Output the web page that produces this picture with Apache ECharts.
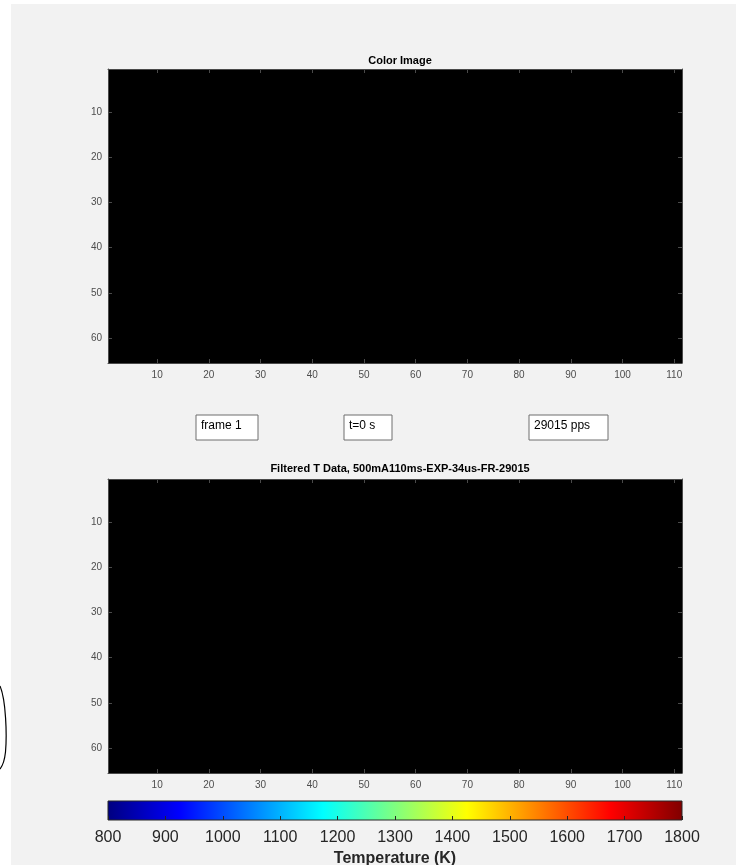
<!DOCTYPE html>
<html>
<head>
<meta charset="utf-8">
<script src="https://cdn.jsdelivr.net/npm/echarts@6/dist/echarts.min.js"></script>
<style>
  html, body { margin: 0; padding: 0; background: #ffffff; }
  #chart { width: 736px; height: 865px; }
</style>
</head>
<body>
<div id="chart"></div>
<script>
// Frame size in pixels (columns, rows) and the pixel level of the frame (blank frame -> 0)
const colorImageSize = [111, 65];
const colorImageLevel = [0];
const tempImageSize = [111, 65];
const tempImageLevel = [0];

// Tick labels
const imageXTicks = [10, 20, 30, 40, 50, 60, 70, 80, 90, 100, 110];
const imageYTicks = [10, 20, 30, 40, 50, 60];
const tempRange = [800, 1800];

// jet colormap stops (position, colour)
const jetStops = [
  [0.000, '#000080'],
  [0.125, '#0000ff'],
  [0.375, '#00ffff'],
  [0.625, '#ffff00'],
  [0.875, '#ff0000'],
  [1.000, '#800000']
];

// Info boxes shown between the two panels
const infoLabels = ['frame 1', 't=0 s', '29015 pps'];

const titles = ['Color Image', 'Filtered T Data, 500mA110ms-EXP-34us-FR-29015'];

const FONT = '"Liberation Sans", Arial, Helvetica, sans-serif';
const AXIS_COLOR = '#4a4a4a';
const LABEL_COLOR = '#4d4d4d';

const chart = echarts.init(document.getElementById('chart'), null, { renderer: 'canvas' });

function imageAxes(gridIndex, size) {
  const xBase = {
    gridIndex, type: 'value', min: 0.5, max: size[0] + 0.5, z: 5,
    splitLine: { show: false },
    axisLine: { show: true, onZero: false, lineStyle: { color: AXIS_COLOR, width: 1 } },
    axisTick: { show: true, inside: true, length: 4, customValues: imageXTicks, lineStyle: { color: AXIS_COLOR } },
    axisLabel: { show: true, customValues: imageXTicks, color: LABEL_COLOR, fontSize: 10, fontFamily: FONT, margin: 7 }
  };
  const yBase = {
    gridIndex, type: 'value', min: 0.5, max: size[1] + 0.5, inverse: true, z: 5,
    splitLine: { show: false },
    axisLine: { show: true, onZero: false, lineStyle: { color: AXIS_COLOR, width: 1 } },
    axisTick: { show: true, inside: true, length: 4, customValues: imageYTicks, lineStyle: { color: AXIS_COLOR } },
    axisLabel: { show: true, customValues: imageYTicks, color: LABEL_COLOR, fontSize: 10, fontFamily: FONT, margin: 6 }
  };
  return {
    x: [
      Object.assign({}, xBase, { position: 'bottom' }),
      Object.assign({}, xBase, { position: 'top', axisLabel: { show: false } })
    ],
    y: [
      Object.assign({}, yBase, { position: 'left' }),
      Object.assign({}, yBase, { position: 'right', axisLabel: { show: false } })
    ]
  };
}

const a0 = imageAxes(0, colorImageSize);
const a1 = imageAxes(1, tempImageSize);

const xAxes = [...a0.x, ...a1.x, {
  gridIndex: 2, type: 'value', min: tempRange[0], max: tempRange[1], interval: 100, z: 5,
  splitLine: { show: false },
  axisLine: { show: false },
  axisTick: { show: true, inside: true, length: 4, lineStyle: { color: '#262626' } },
  axisLabel: { color: '#262626', fontSize: 16, fontFamily: FONT, margin: 10,
    formatter: v => String(v) },
  name: 'Temperature (K)', nameLocation: 'middle', nameGap: 31,
  nameTextStyle: { color: '#262626', fontSize: 16, fontWeight: 'bold', fontFamily: FONT }
}];
const yAxes = [...a0.y, ...a1.y, { gridIndex: 2, type: 'value', min: 0, max: 1, show: false }];

function imageRender(params, api) {
  const p0 = api.coord([api.value(0), api.value(2)]);
  const p1 = api.coord([api.value(1), api.value(3)]);
  const level = api.value(4);
  const g = Math.round(255 * level);
  return {
    type: 'rect',
    shape: {
      x: Math.min(p0[0], p1[0]), y: Math.min(p0[1], p1[1]),
      width: Math.abs(p1[0] - p0[0]), height: Math.abs(p1[1] - p0[1])
    },
    style: { fill: 'rgb(' + g + ',' + g + ',' + g + ')' }
  };
}

function colorbarRender(params, api) {
  const p0 = api.coord([api.value(0), 1]);
  const p1 = api.coord([api.value(1), 0]);
  return {
    type: 'rect',
    shape: { x: p0[0], y: p0[1], width: p1[0] - p0[0], height: p1[1] - p0[1] },
    style: {
      fill: {
        type: 'linear', x: 0, y: 0, x2: 1, y2: 0,
        colorStops: jetStops.map(s => ({ offset: s[0], color: s[1] }))
      },
      stroke: '#262626', lineWidth: 1
    }
  };
}

const boxes = [
  { x: 196, w: 62 },
  { x: 344, w: 48 },
  { x: 529, w: 79 }
];

const option = {
  backgroundColor: '#ffffff',
  animation: false,
  title: [
    { text: titles[0], left: 395, top: 50, textAlign: 'center',
      textStyle: { fontSize: 11, fontWeight: 'bold', color: '#000', fontFamily: FONT } },
    { text: titles[1], left: 395, top: 458, textAlign: 'center',
      textStyle: { fontSize: 11, fontWeight: 'bold', color: '#000', fontFamily: FONT } }
  ],
  grid: [
    { left: 108, top: 69, width: 574, height: 294, containLabel: false, outerBoundsMode: 'none' },
    { left: 108, top: 479, width: 574, height: 294, containLabel: false, outerBoundsMode: 'none' },
    { left: 108, top: 801, width: 574, height: 19, containLabel: false, outerBoundsMode: 'none' }
  ],
  xAxis: xAxes,
  yAxis: yAxes,
  series: [
    { type: 'custom', xAxisIndex: 0, yAxisIndex: 0, renderItem: imageRender,
      data: [[0.5, colorImageSize[0] + 0.5, 0.5, colorImageSize[1] + 0.5, colorImageLevel[0]]] },
    { type: 'custom', xAxisIndex: 2, yAxisIndex: 2, renderItem: imageRender,
      data: [[0.5, tempImageSize[0] + 0.5, 0.5, tempImageSize[1] + 0.5, tempImageLevel[0]]] },
    { type: 'custom', xAxisIndex: 4, yAxisIndex: 4, renderItem: colorbarRender,
      data: [[tempRange[0], tempRange[1]]] }
  ],
  graphic: [
    { type: 'rect', z: -10, silent: true,
      shape: { x: 11, y: 4, width: 725, height: 861 }, style: { fill: '#f2f2f2' } },
    { type: 'bezierCurve', z: 10, silent: true,
      shape: { x1: 0, y1: 686, cpx1: 6, cpy1: 700, cpx2: 7, cpy2: 735, x2: 5.5, y2: 752 },
      style: { fill: null, stroke: '#000', lineWidth: 1.2 } },
    { type: 'bezierCurve', z: 10, silent: true,
      shape: { x1: 5.5, y1: 752, cpx1: 4.5, cpy1: 761, cpx2: 2.5, cpy2: 766, x2: 0, y2: 769 },
      style: { fill: null, stroke: '#000', lineWidth: 1.2 } },
    ...boxes.map((b, i) => ({
      type: 'group', z: 10,
      children: [
        { type: 'rect', shape: { x: b.x, y: 415, width: b.w, height: 25 },
          style: { fill: '#ffffff', stroke: '#6e6e6e', lineWidth: 1 } },
        { type: 'text', x: b.x + 5, y: 426,
          style: { text: infoLabels[i], fill: '#000', fontSize: 12, fontFamily: FONT, verticalAlign: 'middle' } }
      ]
    }))
  ]
};

chart.setOption(option);
</script>
</body>
</html>
